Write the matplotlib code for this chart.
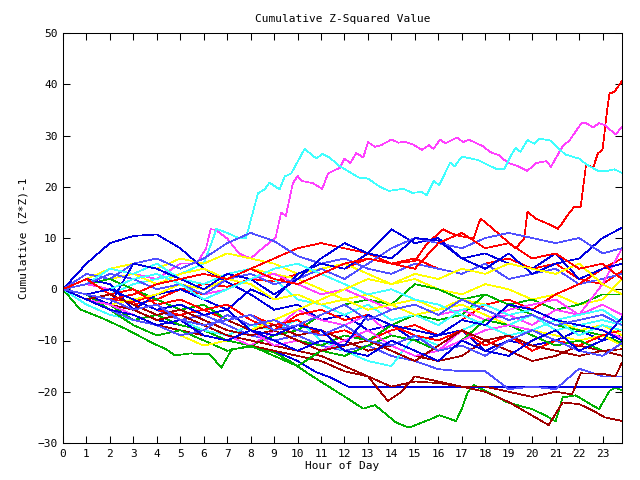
import matplotlib
matplotlib.use('Agg')
import matplotlib.pyplot as plt

# hourly grid used by most days
hours = list(range(24)) + [23.83]

# days traced in more detail (irregular x)
r1_x = [0, 1, 2, 3, 4, 5, 6, 7, 8, 9, 10, 11, 12, 13, 14, 15, 15.5, 16.2, 16.5, 16.9, 17.5, 17.8, 18.2,
        18.8, 19.3, 19.66, 19.8, 20.15, 20.7, 21.1, 21.3, 21.5, 21.8, 22.07, 22.3, 22.6, 22.8, 23.0, 23.2,
        23.3, 23.5, 23.83]
r1_y = [0, -1, -2, -2.5, -1, 0, 1, 0.5, 2, 1.5, 3, 5, 4, 6, 5, 5.5, 8.8, 11.7, 11, 10.4, 9.9, 13.8, 12.3,
        9.9, 8, 9.9, 15.1, 13.8, 12.7, 11.8, 13, 14.4, 16.1, 16.1, 24.4, 23.7, 26.5, 27.2, 35.1,
        38.2, 38.5, 40.6]

m1_x = [0, 1, 2, 3, 4, 5, 5.7, 6.1, 6.2, 6.3, 6.5, 7.0, 7.5, 8, 8.5, 9.06, 9.3, 9.5, 9.8, 10.0, 10.2, 10.65,
        11.05, 11.3, 11.8, 12.0, 12.25, 12.5, 12.8, 13.0, 13.3, 13.55, 14.0, 14.3, 14.55, 14.9, 15.3, 15.6,
        15.8, 16.07, 16.3, 16.8, 17.06, 17.3, 17.9, 18.2, 18.6, 18.95, 19.45, 19.8, 20.15, 20.6, 20.8,
        21.3, 21.6, 22.1, 22.3, 22.6, 22.85, 23.1, 23.56, 23.83]
m1_y = [0, 1, 2, 3, 2, 5, 5, 8, 9.9, 11.7, 11.6, 9.9, 7, 6, 8, 10, 15, 14.3, 20.7, 22.1, 21.1, 20.7,
        19.6, 22.6, 23.7, 25.5, 24.6, 26.6, 25.7, 28.7, 27.8, 28.1, 29.2, 28.6, 28.8, 28.3, 27.2, 28.1,
        27.4, 29.2, 28.5, 29.6, 28.7, 29.2, 27.9, 26.8, 26.1, 24.7, 23.9, 23.1, 24.6, 25.0, 23.9,
        27.9, 29.1, 32.4, 32.4, 31.6, 32.4, 32, 30.2, 31.7]

c1_x = [0, 1, 2, 3, 4, 5, 6, 6.4, 6.54, 7.0, 7.53, 7.8, 8.31, 8.6, 8.8, 9.23, 9.45, 9.73, 10.3, 10.8, 11.05,
        11.36, 11.8, 12.6, 13, 13.5, 13.9, 14.5, 14.9, 15.3, 15.5, 15.8, 16.04, 16.5, 16.7, 17.0, 17.7,
        18.5, 18.8, 19.1, 19.3, 19.5, 19.8, 20.1, 20.3, 20.8, 21.4, 22.0, 22.3, 22.8, 23.2, 23.5, 23.83]
c1_y = [0, -2, -1, 1, 2, 3, 5, 9.9, 11.8, 11, 9.9, 10, 18.7, 19.5, 20.8, 19.5, 22, 22.6, 27.4, 25.5, 26.4,
        25.7, 24, 21.8, 21.6, 20, 19.2, 19.6, 18.8, 19, 18.3, 21.1, 20.3, 24.7, 24, 25.9, 25.2,
        23.4, 23.4, 26.1, 27.6, 26.8, 29.1, 28.4, 29.4, 29.0, 26.3, 25.5, 24.4, 23.1, 23.1, 23.4, 22.7]

bflat_x = [0, 1, 2, 3, 4, 5, 6, 7, 8, 9, 10, 10.8, 11.4, 12.2, 23.83]
bflat_y = [0, -2, -3, -4, -6, -7, -8, -9, -11, -12, -14, -16.2, -17.2, -19.1, -19.1]

g1_x = [0, 0.72, 1.7, 2.7, 3.28, 3.9, 4.4, 4.77, 5.47, 5.7, 6.26, 6.75, 7.2, 8.0, 9.0, 9.66, 10.5, 11.4,
        12.06, 12.8, 13.3, 14.2, 14.75, 15.7, 16.04, 16.75, 17.0, 17.25, 17.5, 18.3, 18.95, 20.0, 20.6,
        21.0, 21.3, 21.85, 22.85, 23.3, 23.55, 23.83]
g1_y = [0, -3.9, -5.7, -7.8, -9.2, -10.7, -11.7, -12.9, -12.5, -12.7, -12.7, -15.3, -11.7, -11.2, -12.3,
        -14, -16.6, -19.2, -21.1, -23.3, -22.6, -26, -27, -25.3, -24.6, -25.7, -23.4, -20.1, -18.7, -20.5,
        -22.1, -23.4, -24.7, -25.8, -21.1, -20.7, -23.4, -19.8, -19.2, -19.7]

dr1_x = list(range(20)) + [20.7, 21.3, 22, 22.6, 23.1, 23.83]
dr1_y = [0, -2, -3, -5, -7, -8, -9, -10, -11, -12, -13, -14, -16, -17, -19, -18, -18.3, -19, -20, -22,
         -26.5, -22.1, -22.4, -23.7, -25, -25.7]

dr2_x = list(range(14)) + [13.85, 14.4, 15, 16, 17, 18, 19, 20, 21, 21.7, 22.07, 23, 23.55, 23.83]
dr2_y = [0, -1, -3, -4, -6, -5, -7, -9, -10, -11, -12, -13, -15, -17, -21.8, -20.1, -17, -18, -19, -19,
         -20, -21, -20, -20.5, -16.4, -16.5, -17, -14.3]

# days on the hourly grid
b1 = [0, 5, 9, 10.4, 10.7, 8, 4, 1.4, -1, -4, -3, -6, -5, -8, -7, -10, -9, -8, -12, -10, -11, -10, -8, -10, -9]
b2 = [0, 2, 1, -4, -1, 0, -2, -4, 0, -2, 3, 5, 4, 7, 11.7, 9, 10, 6, 4, 7, 3, 5, 6, 10, 12]
b3 = [0, -1, -3, 5, 4, 2, 0, 3, 2, -1, 2, 6, 9, 7, 6, 10, 9.5, 6, 7, 5, 4, 7, 2, 4, 5]
b4 = [0, -2, -4, -5, -7, -6, -9, -10, -8, -10, -12, -10, -11, -5, -7, -8, -9, -6, -7, -3, -4, -6, -7, -8, -10]
b5 = [0, -1, 0, -2, -4, -3, -5, -4, -8, -9, -7, -8, -12, -13, -10, -12, -14, -10, -12, -13, -10, -8, -12, -10, -5.5]
lb1 = [0, -1, -3, -2, -4, -6, -5, -7, -9, -10, -9, -11, -12, -11, -13, -14, -15.6, -16, -16, -19.5, -19, -19.5, -15.5, -17, -17]
lb2 = [0, 3, 2, 5, 6, 4, 6, 9, 11, 9.4, 6.5, 5, 6, 4, 3, 5, 4, 3, 5, 2, 3, 4, 1, 2, 3]
lb3 = [0, 1, 3, 2, 0, 1, -1, 2, 3, 1, 2, 4, 2, 5, 8, 10, 9, 8, 10, 11, 10, 9, 10, 7, 8]
lb4 = [0, -2, -4, -6, -7, -9, -8, -5, -7, -6, -8, -9, -7, -10, -11, -9, -12, -11, -13, -10, -8, -10, -12, -13, -10.5]
lb5 = [0, -1, -2, -4, -3, -6, -7, -6, -5, -8, -7, -5, -3, -6, -4, -3, -5, -2, -4, -6, -5, -7, -6, -5, -7]
r2 = [0, -2, -1, -3, -2, 0, -1, 2, 4, 6, 8, 9, 8, 7, 5, 6, 4, 3, 5, 6, 4, 5, 2, 1, 3.5]
r3 = [0, -1, -3, -2, -4, -5, -4, -6, -5, -7, -6, -9, -8, -10, -8, -7, -9, -6, -3, -2, -4, -1, 1, 4, 6]
r4 = [0, 2, -1, 0, -3, -2, -4, -3, -6, -8, -5, -4, -6, -5, -7, -9, -10, -8, -11, -9, -12, -10, -11, -9, -8]
r5 = [0, -1, -2, -1, 1, 2, 3, 2, 4, 2, 1, 3, 5, 6, 5, 4, 9, 11, 8, 9, 6, 7, 4, 5, 2]
g2 = [0, -2, -3, -6, -5, -7, -8, -10, -11, -9, -8, -5, -3, -2, -3, 1, 0, -2, -1, -3, -2, -4, -3, -1, -1]
g3 = [0, 1, 2, 0, -2, -4, -3, -6, -5, -8, -10, -11, -9, -10, -7, -5, -6, -5, -1, -3, -5, -7, -8, -9, -10.5]
g4 = [0, -1, -4, -7, -9, -8, -10, -12, -11, -13, -15, -12, -13, -11, -9, -10, -12, -10, -6, -7, -9, -11, -10, -12, -13]
m2 = [0, -1, -3, -4, -3, -6, -8, -9, -11, -8, -4, -6, -7, -5, -9, -10, -12, -8, -6, -5, -7, -4, -5, -3, -5]
m3 = [0, 1, 0, 2, 3, 1, -1, 0, 2, 3, 1, -1, 0, -2, -4, -3, -5, -4, -6, -4, -3, -2, -5, 1, 8]
m4 = [0, -2, -3, -5, -7, -6, -9, -10, -8, -11, -10, -12, -10, -8, -11, -13, -12, -10, -8, -7, -8, -6, -7, -8, -9.5]
c2 = [0, -3, -5, -6, -7, -6, -8, -9, -7, -8, -6, -10, -12, -14, -15, -9, -11, -8, -6, -7, -5, -8, -7, -6, -7]
c3 = [0, 1, 4, 3, 5, 2, 1, 3, 4, 2, -2, -3, -5, -3, -6, -5, -7, -4, -3, -5, -4, -6, -5, -4, -6.5]
c4 = [0, -1, 0, 2, 3, 1, -2, 0, 2, 4, 5, 3, 1, -1, 0, -2, -3, -5, -7, -9, -8, -6, -9, -7, -8]
dr3 = [0, -1, -2, -4, -3, -6, -7, -6, -8, -7, -9, -8, -10, -12, -11, -13, -14, -13, -10, -12, -14, -13, -11, -12, -11.7]
dr4 = [0, -2, -1, -3, -5, -4, -6, -8, -9, -8, -10, -12, -11, -10, -12, -14, -11, -8, -10, -9, -11, -12, -13, -12, -13]
y1 = [0, 2, 4, 5, 4, 6, 5, 7, 6, 5, 3, 4, 5, 3, 1, 2, 0, -1, 1, 0, -2, -1, -3, -2, 2]
y2 = [0, 1, 2, 3, 1, 3, 4, 2, 4, 3, 2, 0, -2, -1, -3, -2, -4, -2, -3, -5, -4, -6, -8, -7, -9]
y3 = [0, -1, -3, -2, -1, 1, 0, 2, 1, -2, -1, -3, -2, -4, -3, -5, -4, -3, -5, -7, -8, -9, -10, -9, -11]
y4 = [0, -2, -4, -5, -7, -9, -11, -10, -8, -6, -4, -2, 0, 2, 1, 3, 2, 4, 3, 5, 4, 3, 5, 1, -1]

red = '#ff0000'
green = '#00b000'
blue = '#0000e0'
magenta = '#ff40ff'
cyan = '#40ffff'
darkred = '#a00000'
yellow = '#ffff00'
ltblue = '#5050ff'

series = [
    (r1_x, r1_y, red), (g1_x, g1_y, green), (bflat_x, bflat_y, blue), (m1_x, m1_y, magenta),
    (c1_x, c1_y, cyan), (dr1_x, dr1_y, darkred), (hours, y1, yellow), (hours, lb1, ltblue),
    (hours, r2, red), (hours, g2, green), (hours, b1, blue), (hours, m2, magenta),
    (hours, c2, cyan), (dr2_x, dr2_y, darkred), (hours, y2, yellow), (hours, lb2, ltblue),
    (hours, r3, red), (hours, g3, green), (hours, b2, blue), (hours, m3, magenta),
    (hours, c3, cyan), (hours, dr3, darkred), (hours, y3, yellow), (hours, lb3, ltblue),
    (hours, r4, red), (hours, g4, green), (hours, b3, blue), (hours, m4, magenta),
    (hours, c4, cyan), (hours, dr4, darkred), (hours, y4, yellow), (hours, lb4, ltblue),
    (hours, r5, red), (hours, b4, blue), (hours, b5, blue), (hours, lb5, ltblue),
]

plt.rcParams['font.family'] = ['DejaVu Sans Mono']
plt.rcParams['font.size'] = 8

fig = plt.figure(figsize=(6.4, 4.8), dpi=100)
ax = fig.add_axes([63 / 640, 37 / 480, 559 / 640, 410 / 480])

for x, y, col in series:
    ax.plot(x, y, color=col, linewidth=0.5, antialiased=False)

ax.set_xlim(0, 23.83)
ax.set_ylim(-30, 50)
ax.set_xticks(range(24))
ax.set_yticks(range(-30, 51, 10))
ax.tick_params(direction='in', length=5, width=0.75, top=True, right=True, labelsize=8, pad=4)
for s in ax.spines.values():
    s.set_linewidth(0.75)

ax.set_title('Cumulative Z-Squared Value', fontsize=8, pad=8)
ax.set_xlabel('Hour of Day', fontsize=8, labelpad=2)
ax.set_ylabel('Cumulative (Z*Z)-1', fontsize=8, labelpad=6)

fig.savefig('out.png', dpi=100)
